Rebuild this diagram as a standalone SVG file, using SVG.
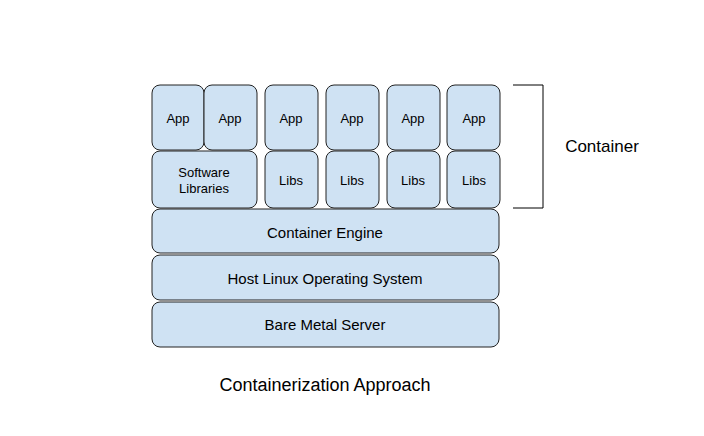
<svg xmlns="http://www.w3.org/2000/svg" width="704" height="436" viewBox="0 0 704 436">
<style>
.b{fill:#cfe2f3;stroke:#222;stroke-width:1}
.t{font-family:"Liberation Sans",Arial,sans-serif;font-size:13px;fill:#000;text-anchor:middle;dominant-baseline:central}
.l{font-family:"Liberation Sans",Arial,sans-serif;font-size:15px;fill:#000;text-anchor:middle;dominant-baseline:central}
.c{font-family:"Liberation Sans",Arial,sans-serif;font-size:18px;fill:#000;text-anchor:middle;dominant-baseline:central}
</style>
<rect width="704" height="436" fill="#fff"/>
<g id="app1"><rect class="b" x="152" y="85" width="52" height="65" rx="8"/><text class="t" x="178" y="118">App</text></g>
<g id="app2"><rect class="b" x="204" y="85" width="53" height="65" rx="8"/><text class="t" x="230" y="118">App</text></g>
<g id="app3"><rect class="b" x="265" y="85" width="53" height="65" rx="8"/><text class="t" x="291" y="118">App</text></g>
<g id="app4"><rect class="b" x="326" y="85" width="53" height="65" rx="8"/><text class="t" x="352" y="118">App</text></g>
<g id="app5"><rect class="b" x="387" y="85" width="53" height="65" rx="8"/><text class="t" x="413" y="118">App</text></g>
<g id="app6"><rect class="b" x="447" y="85" width="53" height="65" rx="8"/><text class="t" x="474" y="118">App</text></g>
<g id="swlibs"><rect class="b" x="152" y="151" width="105" height="57" rx="8"/><text class="t" x="204" y="172">Software</text><text class="t" x="204" y="188">Libraries</text></g>
<g id="libs1"><rect class="b" x="265" y="151" width="53" height="57" rx="8"/><text class="t" x="291" y="180">Libs</text></g>
<g id="libs2"><rect class="b" x="326" y="151" width="53" height="57" rx="8"/><text class="t" x="352" y="180">Libs</text></g>
<g id="libs3"><rect class="b" x="387" y="151" width="53" height="57" rx="8"/><text class="t" x="413" y="180">Libs</text></g>
<g id="libs4"><rect class="b" x="447" y="151" width="53" height="57" rx="8"/><text class="t" x="474" y="180">Libs</text></g>
<g id="engine"><rect class="b" x="152" y="209" width="347" height="44" rx="8"/><text class="l" x="325" y="232">Container Engine</text></g>
<g id="host"><rect class="b" x="152" y="255" width="347" height="45" rx="8"/><text class="l" x="325" y="278">Host Linux Operating System</text></g>
<g id="bare"><rect class="b" x="152" y="302" width="347" height="45" rx="8"/><text class="l" x="325" y="324">Bare Metal Server</text></g>
<g id="connectors"><path d="M513 85H543V208H513" fill="none" stroke="#000" stroke-width="1"/></g>
<g id="labels"><text class="l" x="602" y="146" style="font-size:17px">Container</text>
<text class="c" x="325" y="385">Containerization Approach</text></g>
</svg>
